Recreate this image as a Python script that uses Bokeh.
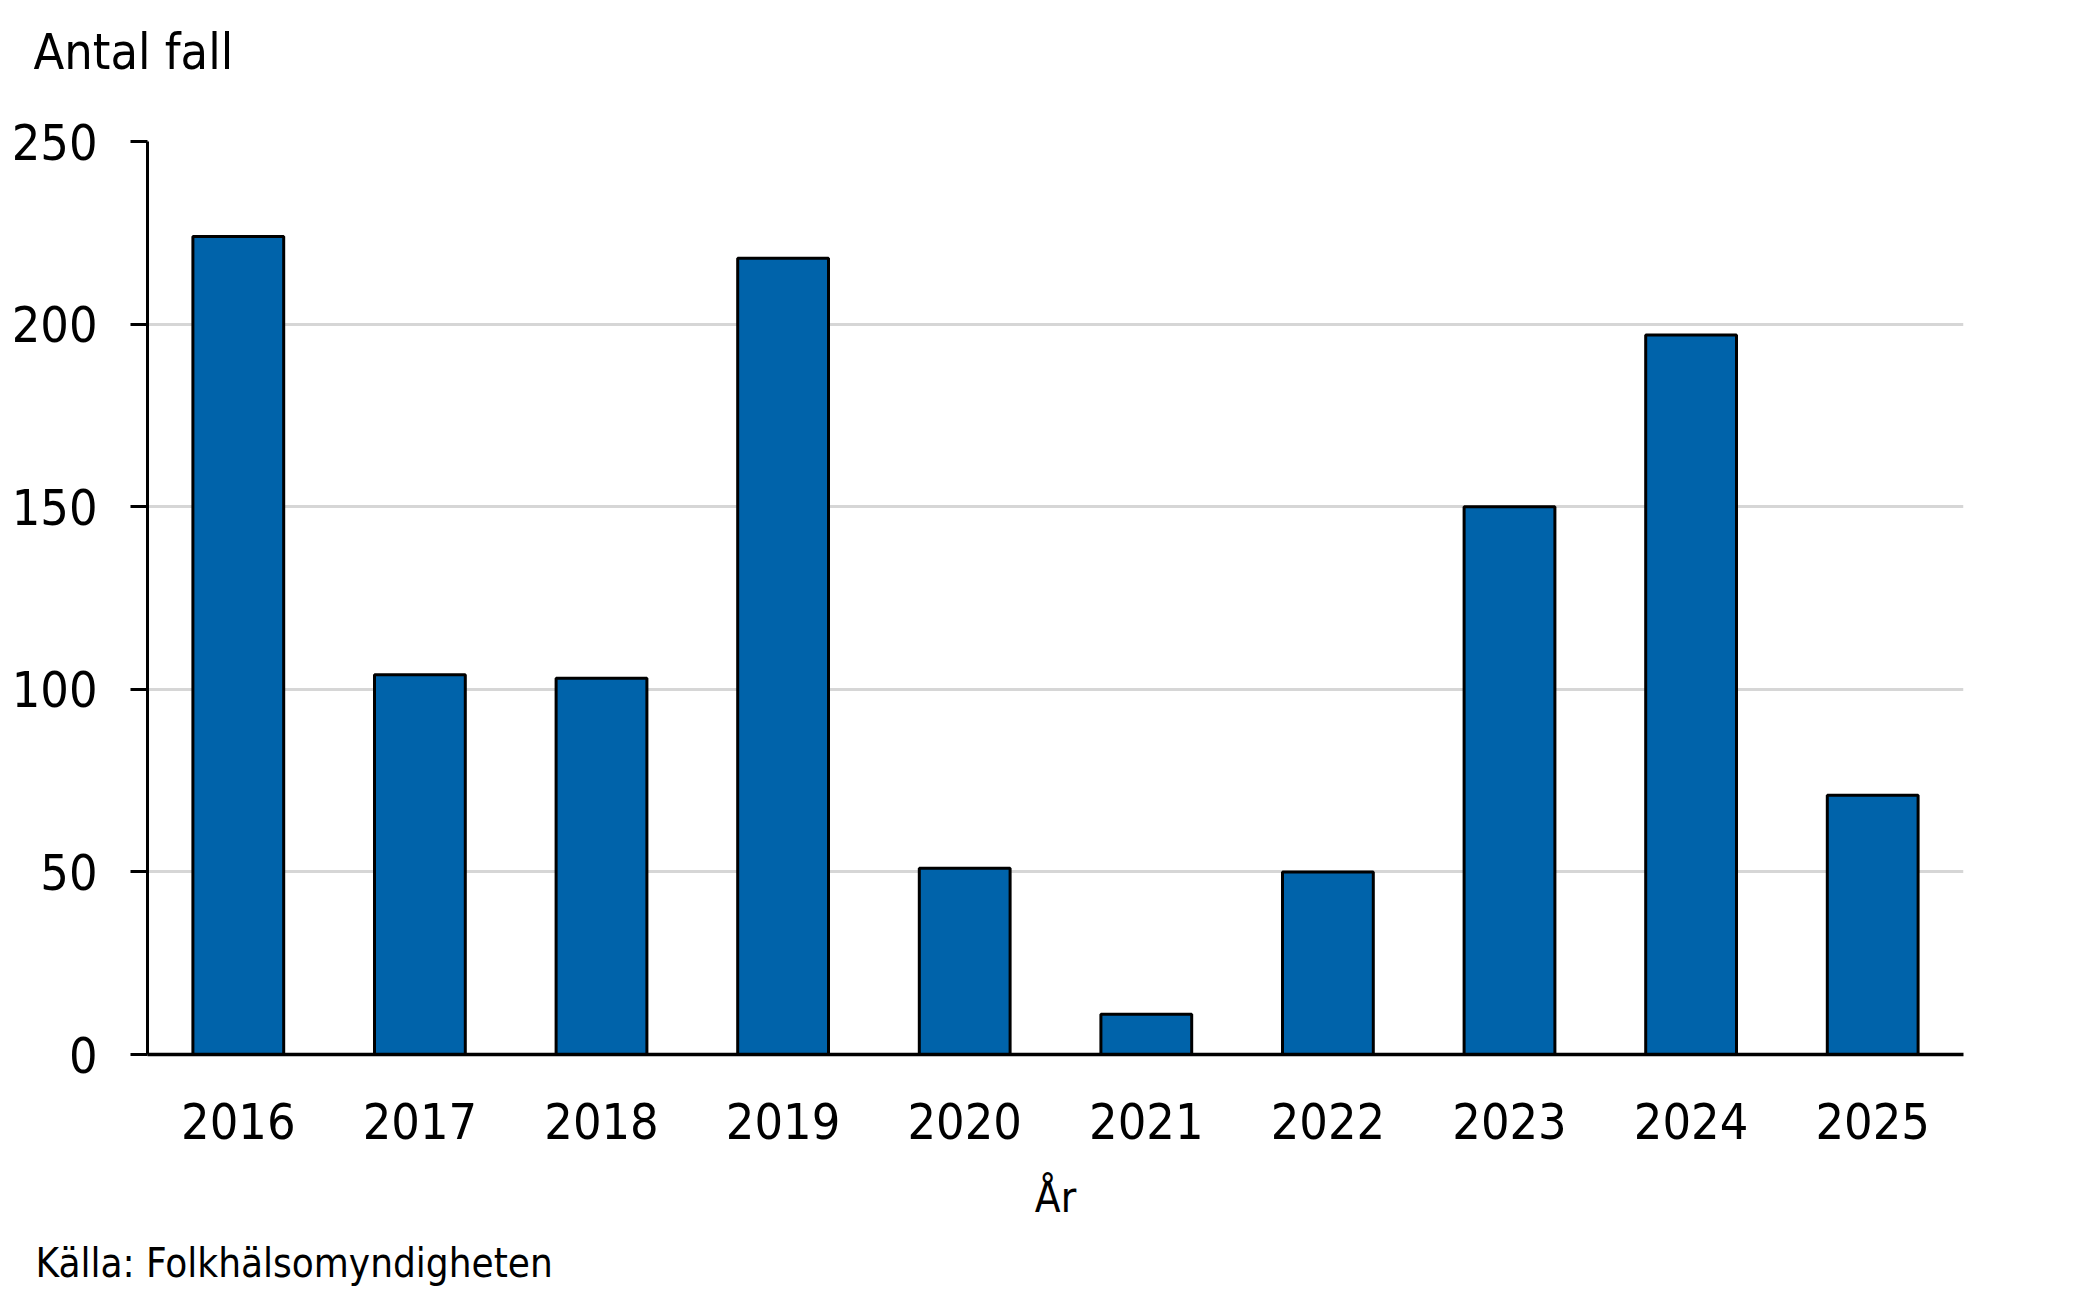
from bokeh.plotting import figure
from bokeh.models import Range1d, FixedTicker, Title
from bokeh.embed import file_html
from bokeh.resources import INLINE

# Data
years = ["2016", "2017", "2018", "2019", "2020", "2021", "2022", "2023", "2024", "2025"]
cases = [224, 104, 103, 218, 51, 11, 50, 150, 197, 71]
y_ticks = [0, 50, 100, 150, 200, 250]

FONT = "DejaVu Sans Condensed"
BAR_BLUE = "#0063aa"

p = figure(
    x_range=years,
    y_range=Range1d(0, 250),
    width=2076,
    height=1299,
    output_backend="svg",
    toolbar_location=None,
    title=None,
    min_border_left=147,
    min_border_right=113,
    min_border_top=141,
    min_border_bottom=243,
)
p.x_range.range_padding = 0
p.outline_line_color = None

p.vbar(x=years, top=cases, width=0.5, fill_color=BAR_BLUE,
       line_color="black", line_width=3)

# grid
p.xgrid.grid_line_color = None
p.ygrid.grid_line_color = "#d6d6d6"
p.ygrid.grid_line_width = 3
p.ygrid.ticker = FixedTicker(ticks=y_ticks)

# y axis
p.yaxis.ticker = FixedTicker(ticks=y_ticks)
p.yaxis.axis_line_color = "black"
p.yaxis.axis_line_width = 3
p.yaxis.major_tick_line_color = "black"
p.yaxis.major_tick_line_width = 3
p.yaxis.major_tick_out = 17
p.yaxis.major_tick_in = 0
p.yaxis.minor_tick_line_color = None
p.yaxis.major_label_standoff = 33
p.yaxis.major_label_text_font = FONT
p.yaxis.major_label_text_font_size = "50px"
p.yaxis.major_label_text_color = "black"

# x axis
p.xaxis.axis_label = "År"
p.xaxis.axis_label_text_font = FONT
p.xaxis.axis_label_text_font_size = "42px"
p.xaxis.axis_label_text_font_style = "normal"
p.xaxis.axis_label_text_color = "black"
p.xaxis.axis_label_standoff = 31
p.xaxis.axis_line_color = "black"
p.xaxis.axis_line_width = 3.5
p.xaxis.major_tick_line_color = None
p.xaxis.minor_tick_line_color = None
p.xaxis.major_label_standoff = 42
p.xaxis.major_label_text_font = FONT
p.xaxis.major_label_text_font_size = "50px"
p.xaxis.major_label_text_color = "black"

# y-axis title above the plot (blank spacer title keeps it off the frame),
# and source note at the bottom
p.add_layout(Title(text=" ", standoff=48, text_font=FONT,
                   text_font_size="10px"), "above")
p.add_layout(Title(text="Antal fall", align="left", offset=-114, standoff=0,
                   text_font=FONT, text_font_size="50px",
                   text_font_style="normal", text_color="black"), "above")
p.add_layout(Title(text="Källa: Folkhälsomyndigheten", align="left", offset=-112,
                   standoff=27, text_font=FONT, text_font_size="40px",
                   text_font_style="normal", text_color="black"), "below")

open("out.html", "w").write(file_html(p, INLINE))
